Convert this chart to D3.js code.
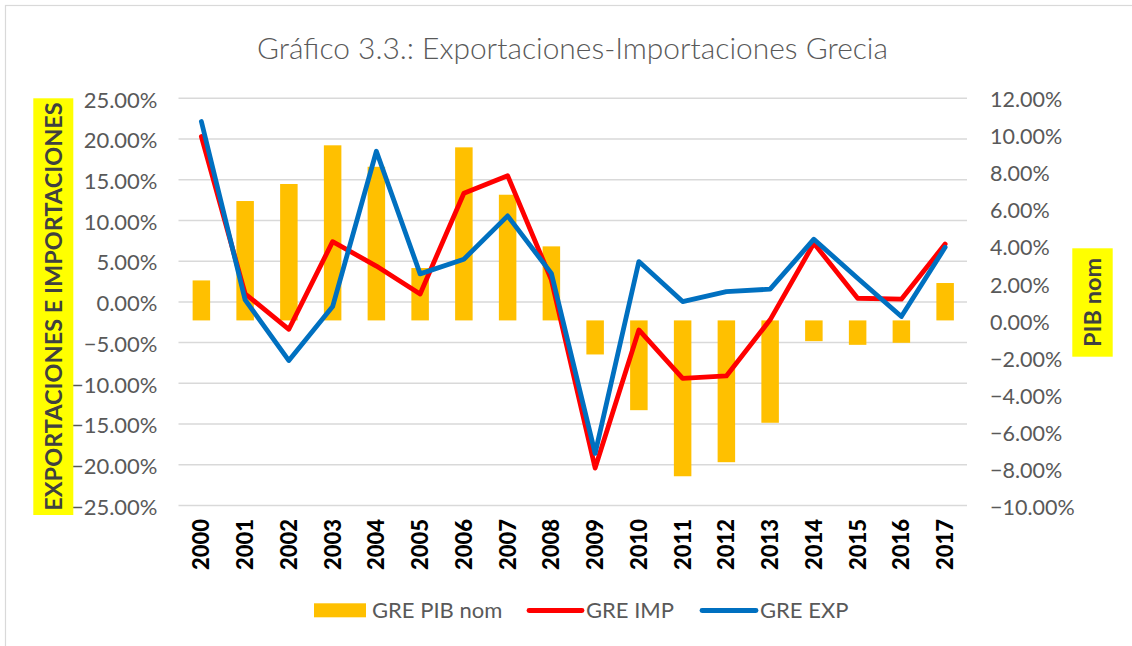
<!DOCTYPE html>
<html>
<head>
<meta charset="utf-8">
<script src="https://cdn.jsdelivr.net/npm/d3@7/dist/d3.min.js"></script>
<style>
  html, body { margin: 0; padding: 0; background: #fff; }
  svg { display: block; }
</style>
</head>
<body>
<svg id="chart" width="1132" height="646"></svg>
<script>
// ---- DATA ----
const years = ["2000","2001","2002","2003","2004","2005","2006","2007","2008","2009",
               "2010","2011","2012","2013","2014","2015","2016","2017"];
// GRE PIB nom (right axis)
const pibNom = [0.0216, 0.0645, 0.0737, 0.0946, 0.0830, 0.0283, 0.0935, 0.0679, 0.0400, -0.0184,
                -0.0485, -0.0842, -0.0766, -0.0553, -0.0112, -0.0132, -0.0121, 0.0202];
// GRE IMP (left axis)
const greImp = [0.203, 0.010, -0.0336, 0.074, 0.044, 0.0098, 0.1335, 0.155, 0.027, -0.204,
                -0.0344, -0.0938, -0.0909, -0.022, 0.072, 0.0045, 0.0033, 0.071];
// GRE EXP (left axis)
const greExp = [0.2215, 0.0025, -0.072, -0.0057, 0.185, 0.0344, 0.0524, 0.1056, 0.035, -0.186,
                0.0495, 0.0004, 0.0127, 0.0156, 0.077, 0.029, -0.018, 0.067];
const leftTicks = [0.25, 0.20, 0.15, 0.10, 0.05, 0, -0.05, -0.10, -0.15, -0.20, -0.25];
const rightTicks = [0.12, 0.10, 0.08, 0.06, 0.04, 0.02, 0, -0.02, -0.04, -0.06, -0.08, -0.10];
const titleText = "Gráfico 3.3.: Exportaciones-Importaciones Grecia";
const leftAxisTitle = "EXPORTACIONES E IMPORTACIONES";
const rightAxisTitle = "PIB nom";
const legendLabels = ["GRE PIB nom", "GRE IMP", "GRE EXP"];

// ---- LAYOUT ----
const svg = d3.select("#chart");
const plot = { left: 179.5, right: 967, top: 98.3, bottom: 505.5 };
const FONT = "Lato, 'Open Sans', 'Liberation Sans', sans-serif";
const colBar = "#FFC000", colImp = "#FF0000", colExp = "#0070C0";

// chart border
svg.append("rect").attr("x", 5.5).attr("y", 5.5).attr("width", 1140).attr("height", 660)
  .attr("fill", "#fff").attr("stroke", "#d9d9d9").attr("stroke-width", 1.2);

const x = d3.scaleBand().domain(years).range([plot.left, plot.right])
  .paddingInner(0.6).paddingOuter(0.3);
const yL = d3.scaleLinear().domain([-0.25, 0.25]).range([plot.bottom, plot.top]);
const yR = d3.scaleLinear().domain([-0.10, 0.12]).range([plot.bottom, plot.top]);
const cx = d => x(d) + x.bandwidth() / 2;
const pct = d3.format(".2%");

// title
svg.append("text").attr("x", 572.5).attr("y", 59).attr("text-anchor", "middle")
  .attr("font-family", FONT).attr("font-size", 28.5).attr("font-weight", 300).attr("fill", "#595959")
  .attr("textLength", 631).attr("lengthAdjust", "spacingAndGlyphs")
  .text(titleText);

// gridlines
svg.append("g").selectAll("line").data(leftTicks).join("line")
  .attr("x1", plot.left - 1).attr("x2", plot.right)
  .attr("y1", d => yL(d)).attr("y2", d => yL(d))
  .attr("stroke", "#d9d9d9").attr("stroke-width", 1.5);

// left axis
const gL = svg.append("g").attr("transform", `translate(${plot.left},0)`)
  .call(d3.axisLeft(yL).tickValues(leftTicks).tickFormat(pct).tickSize(0).tickPadding(22));
gL.select(".domain").remove();
gL.selectAll("text").attr("font-family", FONT).attr("font-size", 22).attr("fill", "#595959")
  .attr("dy", "0.4em");

// right axis
const gR = svg.append("g").attr("transform", `translate(${plot.right},0)`)
  .call(d3.axisRight(yR).tickValues(rightTicks).tickFormat(pct).tickSize(0).tickPadding(23));
gR.select(".domain").remove();
gR.selectAll("text").attr("font-family", FONT).attr("font-size", 21.5).attr("fill", "#595959")
  .attr("dy", "0.4em");

// bars
svg.append("g").selectAll("rect").data(years).join("rect")
  .attr("x", d => x(d)).attr("width", x.bandwidth())
  .attr("y", (d, i) => yR(Math.max(0, pibNom[i])))
  .attr("height", (d, i) => Math.abs(yR(pibNom[i]) - yR(0)))
  .attr("fill", colBar);

// lines
const lineGen = d3.line().x(d => cx(d.year)).y(d => yL(d.v));
[[greImp, colImp], [greExp, colExp]].forEach(([arr, col]) => {
  svg.append("path").datum(years.map((yr, i) => ({ year: yr, v: arr[i] })))
    .attr("d", lineGen).attr("fill", "none").attr("stroke", col)
    .attr("stroke-width", 4.8).attr("stroke-linejoin", "round").attr("stroke-linecap", "round");
});

// x axis labels
const gX = svg.append("g").attr("transform", `translate(0,519)`)
  .call(d3.axisBottom(x).tickSize(0).tickPadding(0));
gX.select(".domain").remove();
gX.selectAll("text")
  .attr("transform", "rotate(-90)")
  .attr("text-anchor", "end").attr("x", 0).attr("y", 0).attr("dy", "0.36em")
  .attr("font-family", FONT).attr("font-size", 22).attr("font-weight", 900).attr("fill", "#000");

// left axis title
svg.append("rect").attr("x", 33.3).attr("y", 98.3).attr("width", 40).attr("height", 416.7)
  .attr("fill", "#FFFF00");
svg.append("text").attr("transform", "translate(53.3,306.5) rotate(-90)")
  .attr("text-anchor", "middle").attr("dy", "0.36em")
  .attr("font-family", FONT).attr("font-size", 23.5).attr("font-weight", 700).attr("fill", "#404040")
  .text(leftAxisTitle);

// right axis title
svg.append("rect").attr("x", 1072.3).attr("y", 248.3).attr("width", 40.4).attr("height", 108.4)
  .attr("fill", "#FFFF00");
svg.append("text").attr("transform", "translate(1092.5,302.5) rotate(-90)")
  .attr("text-anchor", "middle").attr("dy", "0.36em")
  .attr("font-family", FONT).attr("font-size", 23.5).attr("font-weight", 700).attr("fill", "#404040")
  .text(rightAxisTitle);

// legend
const lg = svg.append("g").attr("font-family", FONT).attr("font-size", 22).attr("fill", "#595959");
lg.append("rect").attr("x", 314).attr("y", 603.3).attr("width", 52).attr("height", 14).attr("fill", colBar);
lg.append("text").attr("x", 372).attr("y", 618).text(legendLabels[0]);
lg.append("line").attr("x1", 529).attr("x2", 582).attr("y1", 610.5).attr("y2", 610.5)
  .attr("stroke", colImp).attr("stroke-width", 4.8).attr("stroke-linecap", "round");
lg.append("text").attr("x", 586).attr("y", 618).text(legendLabels[1]);
lg.append("line").attr("x1", 702).attr("x2", 756).attr("y1", 610.5).attr("y2", 610.5)
  .attr("stroke", colExp).attr("stroke-width", 4.8).attr("stroke-linecap", "round");
lg.append("text").attr("x", 760).attr("y", 618).text(legendLabels[2]);
</script>
</body>
</html>
